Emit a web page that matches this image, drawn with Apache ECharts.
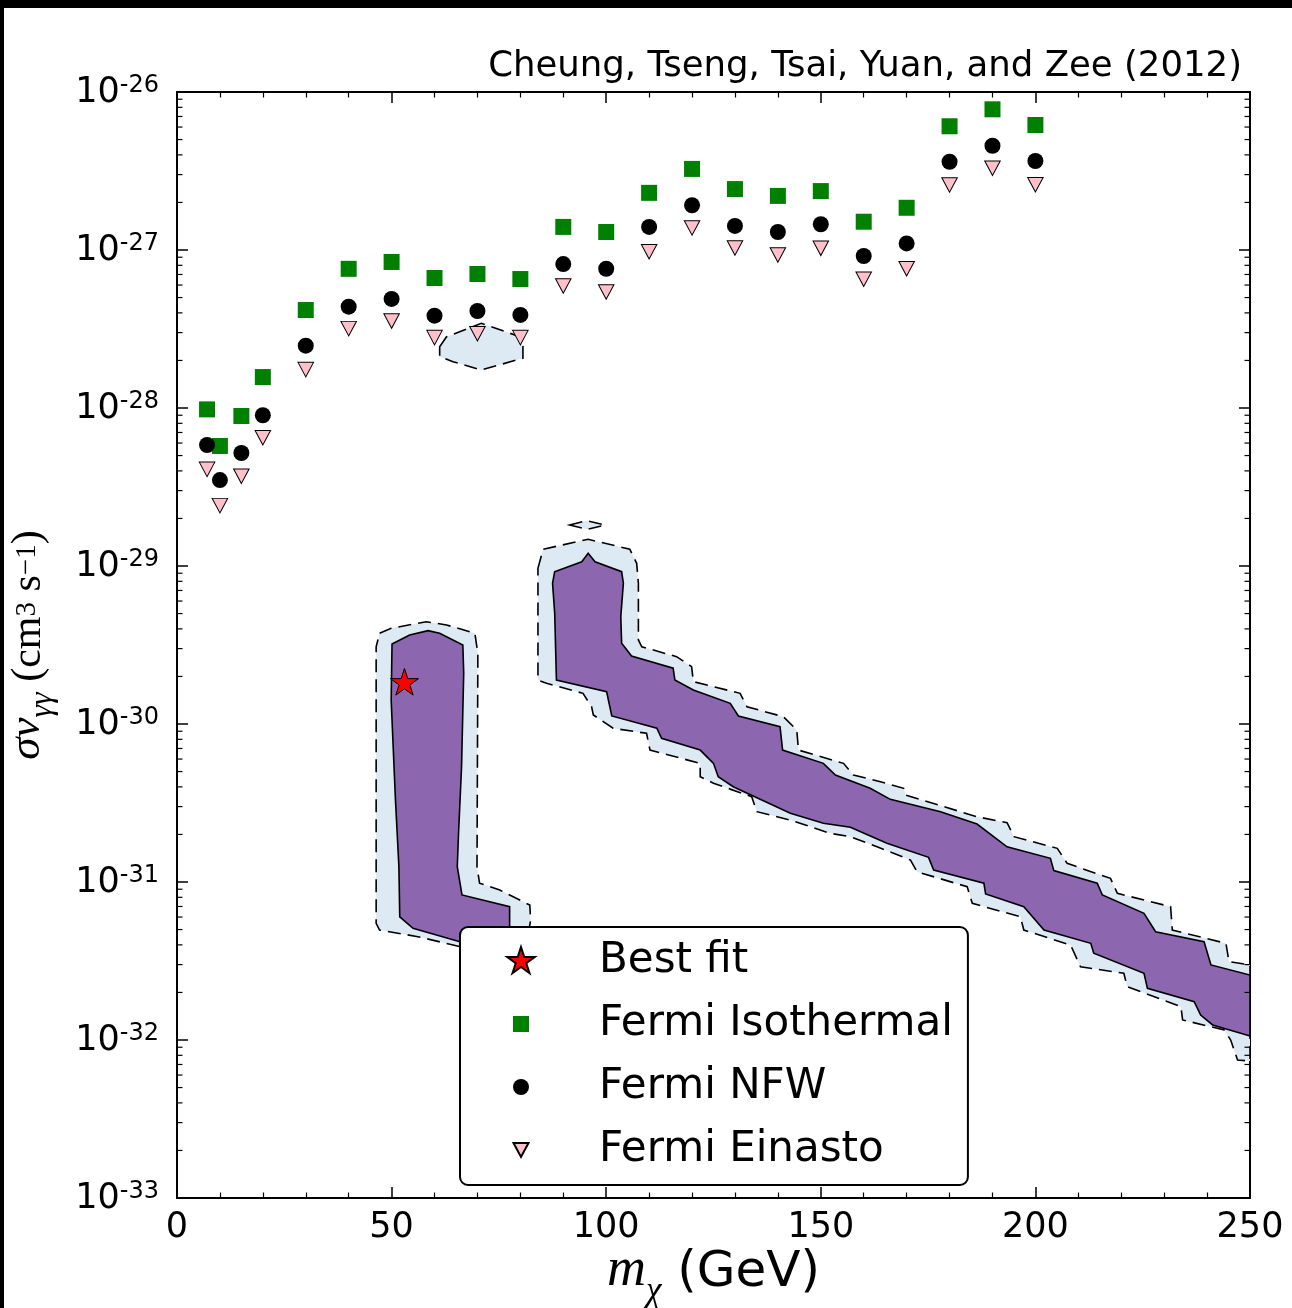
<!DOCTYPE html>
<html>
<head>
<meta charset="utf-8">
<script src="https://cdn.jsdelivr.net/npm/echarts@6/dist/echarts.min.js"></script>
<style>
  html, body { margin: 0; padding: 0; background: #fff; }
  #chart { width: 1292px; height: 1308px; }
</style>
</head>
<body>
<div id="chart"></div>
<script>
// Dark-matter mass (GeV) of the Fermi upper limits
const massPoints = [7, 10, 15, 20, 30, 40, 50, 60, 70, 80, 90, 100, 110, 120, 130, 140, 150, 160, 170, 180, 190, 200];

// Upper limits on sigma*v (cm^3 s^-1) for three halo profiles
const isothermal = [9.8e-29, 5.75e-29, 8.9e-29, 1.57e-28, 4.17e-28, 7.6e-28, 8.4e-28, 6.65e-28, 7.05e-28, 6.55e-28,
  1.40e-27, 1.30e-27, 2.30e-27, 3.26e-27, 2.43e-27, 2.20e-27, 2.36e-27, 1.51e-27, 1.85e-27, 6.07e-27, 7.77e-27, 6.18e-27];
const nfw = [5.83e-29, 3.50e-29, 5.19e-29, 9.0e-29, 2.48e-28, 4.38e-28, 4.90e-28, 3.84e-28, 4.11e-28, 3.88e-28,
  8.15e-28, 7.61e-28, 1.40e-27, 1.92e-27, 1.42e-27, 1.30e-27, 1.455e-27, 9.16e-28, 1.10e-27, 3.62e-27, 4.57e-27, 3.66e-27];
const einasto = [4.09e-29, 2.41e-29, 3.70e-29, 6.49e-29, 1.75e-28, 3.18e-28, 3.55e-28, 2.79e-28, 2.95e-28, 2.79e-28,
  5.92e-28, 5.42e-28, 9.75e-28, 1.38e-27, 1.03e-27, 9.3e-28, 1.025e-27, 6.53e-28, 7.61e-28, 2.58e-27, 3.29e-27, 2.59e-27];

// Best-fit point [mass GeV, sigma*v]
const bestFit = [53.0, 1.85e-30];

// Fit contours, vertices as [mass GeV, log10(sigma*v)]
const innerLeft = [
  [50.1, -29.494], [54.2, -29.437], [58.5, -29.409], [61.2, -29.426], [66.6, -29.5], [66.8, -29.679],
  [66.3, -30.27], [65.6, -30.692], [65.3, -30.903], [66.4, -31.082], [77.5, -31.156], [77.5, -31.399],
  [65.9, -31.378], [55.0, -31.293], [51.9, -31.22], [51.7, -30.903], [50.9, -30.481], [49.9, -29.848]
];
const outerLeft = [
  [47.2, -29.426], [49.9, -29.394], [58.1, -29.353], [62.8, -29.373], [69.4, -29.426], [70.1, -29.553],
  [69.9, -30.903], [70.5, -31.008], [75.2, -31.051], [82.2, -31.146], [82.4, -31.241], [81.0, -31.462],
  [65.9, -31.409], [56.1, -31.346], [47.2, -31.304], [46.4, -31.261], [46.4, -29.511]
];
const innerRight = [
  [88.0, -29.036], [94.3, -28.973], [95.8, -28.92], [97.4, -28.973], [103.6, -29.036], [104.0, -29.109],
  [103.4, -29.321], [103.6, -29.489], [105.9, -29.57], [115.6, -29.647], [116.0, -29.722], [120.3, -29.785],
  [128.9, -29.869], [130.8, -29.949], [140.5, -30.017], [141.1, -30.165], [150.6, -30.249], [153.4, -30.323],
  [161.5, -30.407], [166.2, -30.477], [177.9, -30.555], [186.4, -30.633], [193.4, -30.777], [203.5, -30.85],
  [204.3, -30.928], [214.4, -31.008], [215.6, -31.082], [225.3, -31.198], [228.0, -31.315], [239.3, -31.378],
  [240.9, -31.525], [250, -31.589],
  [250, -31.975], [241.3, -31.905], [238.5, -31.842], [237.0, -31.758], [226.1, -31.673], [225.3, -31.578],
  [213.6, -31.451], [212.9, -31.388], [202.0, -31.304], [197.3, -31.156], [188.4, -31.076], [188.0, -31.008],
  [176.3, -30.924], [175.1, -30.844], [165.4, -30.755], [156.9, -30.654], [150.6, -30.628], [142.9, -30.565],
  [129.6, -30.397], [126.1, -30.334], [125.0, -30.249], [121.9, -30.165], [112.9, -30.091], [111.8, -30.027],
  [101.3, -29.949], [100.1, -29.796], [88.4, -29.722], [88.0, -29.299], [87.5, -29.109]
];
const outerRight = [
  [84.1, -29.015], [85.3, -28.894], [95.8, -28.831], [105.5, -28.894], [107.1, -28.983], [107.5, -29.109],
  [107.5, -29.468], [108.3, -29.511], [116.4, -29.574], [119.9, -29.637], [120.3, -29.732], [131.2, -29.806],
  [132.8, -29.891], [141.3, -29.954], [144.4, -30.038], [144.8, -30.165], [155.3, -30.249], [157.6, -30.323],
  [163.9, -30.365], [169.3, -30.407], [169.7, -30.449], [186.4, -30.587], [193.4, -30.625], [195.0, -30.713],
  [205.1, -30.787], [207.4, -30.882], [217.5, -30.977], [219.1, -31.072], [231.5, -31.156], [231.9, -31.304],
  [244.4, -31.388], [245.1, -31.504], [250, -31.525],
  [250, -32.133], [247.1, -32.127], [245.5, -32.0], [244.0, -31.937], [234.3, -31.873], [233.9, -31.789],
  [221.4, -31.663], [220.6, -31.578], [210.5, -31.536], [208.2, -31.399], [197.3, -31.304], [196.5, -31.22],
  [185.3, -31.135], [184.1, -31.03], [172.4, -30.935], [170.9, -30.861], [163.1, -30.777], [156.9, -30.713],
  [152.2, -30.692], [142.9, -30.608], [135.1, -30.555], [133.9, -30.46], [125.0, -30.375], [121.9, -30.334],
  [121.9, -30.249], [110.2, -30.165], [109.4, -30.059], [101.6, -30.027], [97.0, -29.943], [96.6, -29.891],
  [94.6, -29.806], [86.1, -29.742], [84.1, -29.722]
];
const outerIsland = [[91.5, -28.741], [95.5, -28.713], [99.7, -28.741], [95.5, -28.768]];
const outerHex = [
  [61.2, -27.612], [62.8, -27.549], [70.9, -27.464], [79.9, -27.549], [80.6, -27.612],
  [80.6, -27.685], [70.9, -27.759], [64.3, -27.707], [61.2, -27.675]
];

// Axis ticks and labels
const xTicks = { min: 0, max: 250, step: 50 };
const yTickExponents = [-33, -32, -31, -30, -29, -28, -27, -26];
const minorMultipliers = [2, 3, 4, 5, 6, 7, 8, 9];
// lower bound nudged a hair under 1e-33 so the bottom decade tick survives float rounding
const yMin = 0.9999999e-33;
const yMax = 1e-26;

const titleText = 'Cheung, Tseng, Tsai, Yuan, and Zee (2012)';
const legendNames = ['Best fit', 'Fermi Isothermal', 'Fermi NFW', 'Fermi Einasto'];

const FONT = 'DejaVu Sans';
const SERIF = 'Liberation Serif';
const LIGHT = '#dde9f3';
const PURPLE = '#8c66ae';

const starPath = 'M15,1L18.26,11.02L28.79,11.02L20.27,17.21L23.52,27.23L15,21.04L6.48,27.23L9.73,17.21L1.21,11.02L11.74,11.02Z';
// legend icons padded inside a 30x30 box so each keeps its own size
const legendIcons = {
  'Best fit': 'path://M0,0M30,30' + starPath,
  'Fermi Isothermal': 'path://M0,0M30,30M7,7L23,7L23,23L7,23Z',
  'Fermi NFW': 'path://M0,0M30,30M23,15A8,8,0,1,1,7,15A8,8,0,1,1,23,15Z',
  'Fermi Einasto': 'path://M0,0M30,30M7.5,8L22.5,8L15,22Z'
};

const toPairs = (ys) => massPoints.map((m, i) => [m, ys[i]]);
const toSigma = (verts) => verts.map(p => [p[0], Math.pow(10, p[1])]);

function contourSeries(name, verts, fill, dashed) {
  const pts = toSigma(verts);
  return {
    type: 'custom', name: name, silent: true, z: 2,
    coordinateSystem: 'cartesian2d', xAxisIndex: 0, yAxisIndex: 0,
    data: pts,
    renderItem: function (params, api) {
      if (params.dataIndex !== 0) return null;
      return {
        type: 'polygon',
        shape: { points: pts.map(p => api.coord(p)) },
        style: { fill: fill, stroke: '#000', lineWidth: 1.6, lineDash: dashed ? [13, 7] : null }
      };
    }
  };
}

// log-axis minor tick positions (2..9 x 10^n)
const logMinorTicks = [];
yTickExponents.slice(0, -1).forEach(e => minorMultipliers.forEach(k => logMinorTicks.push([xTicks.min, k * Math.pow(10, e)])));

const axisLineStyle = { show: true, onZero: false, lineStyle: { color: '#000', width: 2 } };
const majorTick = { show: true, inside: true, length: 11, lineStyle: { color: '#000', width: 1.5 } };

function xAxisDef(pos, withLabels) {
  const ax = {
    type: 'value', position: pos, min: xTicks.min, max: xTicks.max, interval: xTicks.step,
    axisLine: axisLineStyle, axisTick: majorTick,
    minorTick: { show: true, splitNumber: 5, length: 5.5, lineStyle: { color: '#000', width: 1.2 } },
    splitLine: { show: false }, minorSplitLine: { show: false },
    axisLabel: { show: withLabels, fontSize: 35, color: '#000', fontFamily: FONT, margin: 12,
      showMinLabel: true, showMaxLabel: true, hideOverlap: false }
  };
  if (withLabels) {
    ax.name = '{m|m}{c|χ}{u| (GeV)}';
    ax.nameLocation = 'middle';
    ax.nameGap = 61;
    ax.nameMoveOverlap = false;
    ax.nameTextStyle = {
      rich: {
        m: { fontFamily: SERIF, fontStyle: 'italic', fontSize: 54, color: '#000', verticalAlign: 'bottom', lineHeight: 50, padding: [0, 0, 11, 0] },
        c: { fontFamily: SERIF, fontStyle: 'italic', fontSize: 35, color: '#000', verticalAlign: 'bottom', lineHeight: 32 },
        u: { fontFamily: FONT, fontSize: 50, color: '#000', verticalAlign: 'bottom', lineHeight: 50, padding: [0, 0, 11, 0] }
      }
    };
  }
  return ax;
}

function yAxisDef(pos, withLabels) {
  const ax = {
    type: 'log', logBase: 10, position: pos, min: yMin, max: yMax, splitNumber: 7,
    axisLine: axisLineStyle, axisTick: majorTick,
    splitLine: { show: false },
    axisLabel: {
      show: withLabels, margin: 18, showMinLabel: true, showMaxLabel: true, hideOverlap: false,
      formatter: function (v) {
        const e = yTickExponents.find(x => Math.abs(Math.log10(v) - x) < 1e-3);
        return e === undefined ? '' : '{b|10}{s|' + e + '}';
      },
      rich: {
        b: { fontSize: 35, fontFamily: FONT, color: '#000', lineHeight: 36, verticalAlign: 'bottom', padding: [8, 0, 0, 0] },
        s: { fontSize: 24, fontFamily: FONT, color: '#000', lineHeight: 24, verticalAlign: 'top' }
      }
    }
  };
  if (withLabels) {
    ax.name = '{i|σv}{sb|γγ}{r| (cm}{sp|3}{r| s}{sp|−1}{r|)}';
    ax.nameLocation = 'middle';
    ax.nameRotate = 90;
    ax.nameGap = 118;
    ax.nameMoveOverlap = false;
    ax.nameTextStyle = {
      rich: {
        i: { fontFamily: SERIF, fontStyle: 'italic', fontSize: 45, color: '#000', verticalAlign: 'bottom', lineHeight: 46, padding: [0, 0, 9, 0] },
        sb: { fontFamily: SERIF, fontStyle: 'italic', fontSize: 32, color: '#000', verticalAlign: 'bottom', lineHeight: 32 },
        r: { fontFamily: SERIF, fontSize: 42, color: '#000', verticalAlign: 'bottom', lineHeight: 46, padding: [0, 0, 9, 0] },
        sp: { fontFamily: SERIF, fontSize: 29, color: '#000', verticalAlign: 'top', lineHeight: 29 }
      }
    };
  }
  return ax;
}

const chart = echarts.init(document.getElementById('chart'), null, { renderer: 'canvas' });

chart.setOption({
  backgroundColor: '#fff',
  animation: false,
  title: {
    text: titleText, right: 50, top: 47, padding: 0,
    textStyle: { fontFamily: FONT, fontSize: 35.5, fontWeight: 'normal', color: '#000', lineHeight: 40 }
  },
  grid: { left: 177, right: 42, top: 92, bottom: 110, containLabel: false, outerBoundsMode: 'none' },
  xAxis: [xAxisDef('bottom', true), xAxisDef('top', false)],
  yAxis: [yAxisDef('left', true), yAxisDef('right', false)],
  legend: {
    orient: 'vertical', left: 460, top: 927,
    padding: [13, 15, 14, 45], itemGap: 21, itemWidth: 30, itemHeight: 30,
    backgroundColor: '#fff', borderColor: '#000', borderWidth: 2, borderRadius: 8,
    selectedMode: false,
    textStyle: { fontFamily: FONT, fontSize: 42, color: '#000', lineHeight: 40, padding: [0, 0, 0, 58] },
    data: legendNames.map(n => ({ name: n, icon: legendIcons[n] }))
  },
  graphic: [
    { type: 'rect', z: 100, shape: { x: 0, y: 0, width: 1292, height: 8 }, style: { fill: '#000' } },
    { type: 'rect', z: 100, shape: { x: 0, y: 0, width: 4, height: 1308 }, style: { fill: '#000' } }
  ],
  series: [
    contourSeries('outerLeft', outerLeft, LIGHT, true),
    contourSeries('outerRight', outerRight, LIGHT, true),
    contourSeries('outerIsland', outerIsland, LIGHT, true),
    contourSeries('outerHex', outerHex, LIGHT, true),
    contourSeries('innerLeft', innerLeft, PURPLE, false),
    contourSeries('innerRight', innerRight, PURPLE, false),
    {
      type: 'custom', name: 'logMinorTicks', silent: true, z: 6,
      coordinateSystem: 'cartesian2d', xAxisIndex: 0, yAxisIndex: 0,
      data: logMinorTicks,
      renderItem: function (params, api) {
        const v = api.value(1);
        const l = api.coord([xTicks.min, v]);
        const r = api.coord([xTicks.max, v]);
        return {
          type: 'group', children: [
            { type: 'line', shape: { x1: l[0], y1: l[1], x2: l[0] + 5.5, y2: l[1] }, style: { stroke: '#000', lineWidth: 1.2 } },
            { type: 'line', shape: { x1: r[0] - 5.5, y1: r[1], x2: r[0], y2: r[1] }, style: { stroke: '#000', lineWidth: 1.2 } }
          ]
        };
      }
    },
    {
      type: 'scatter', name: 'Fermi Isothermal', z: 3, silent: true,
      symbol: 'rect', symbolSize: 16,
      itemStyle: { color: '#008000', opacity: 1 },
      data: toPairs(isothermal)
    },
    {
      type: 'scatter', name: 'Fermi NFW', z: 3, silent: true,
      symbol: 'circle', symbolSize: 16,
      itemStyle: { color: '#000', opacity: 1 },
      data: toPairs(nfw)
    },
    {
      type: 'scatter', name: 'Fermi Einasto', z: 3, silent: true,
      symbol: 'triangle', symbolRotate: 180, symbolSize: [15.5, 14.5],
      itemStyle: { color: '#FFC0CB', borderColor: '#000', borderWidth: 1, opacity: 1 },
      data: toPairs(einasto)
    },
    {
      type: 'scatter', name: 'Best fit', z: 4, silent: true,
      symbol: 'path://' + starPath, symbolKeepAspect: true, symbolSize: 28,
      itemStyle: { color: '#ff0000', borderColor: '#000', borderWidth: 1, opacity: 1 },
      data: [bestFit]
    }
  ]
});
</script>
</body>
</html>
